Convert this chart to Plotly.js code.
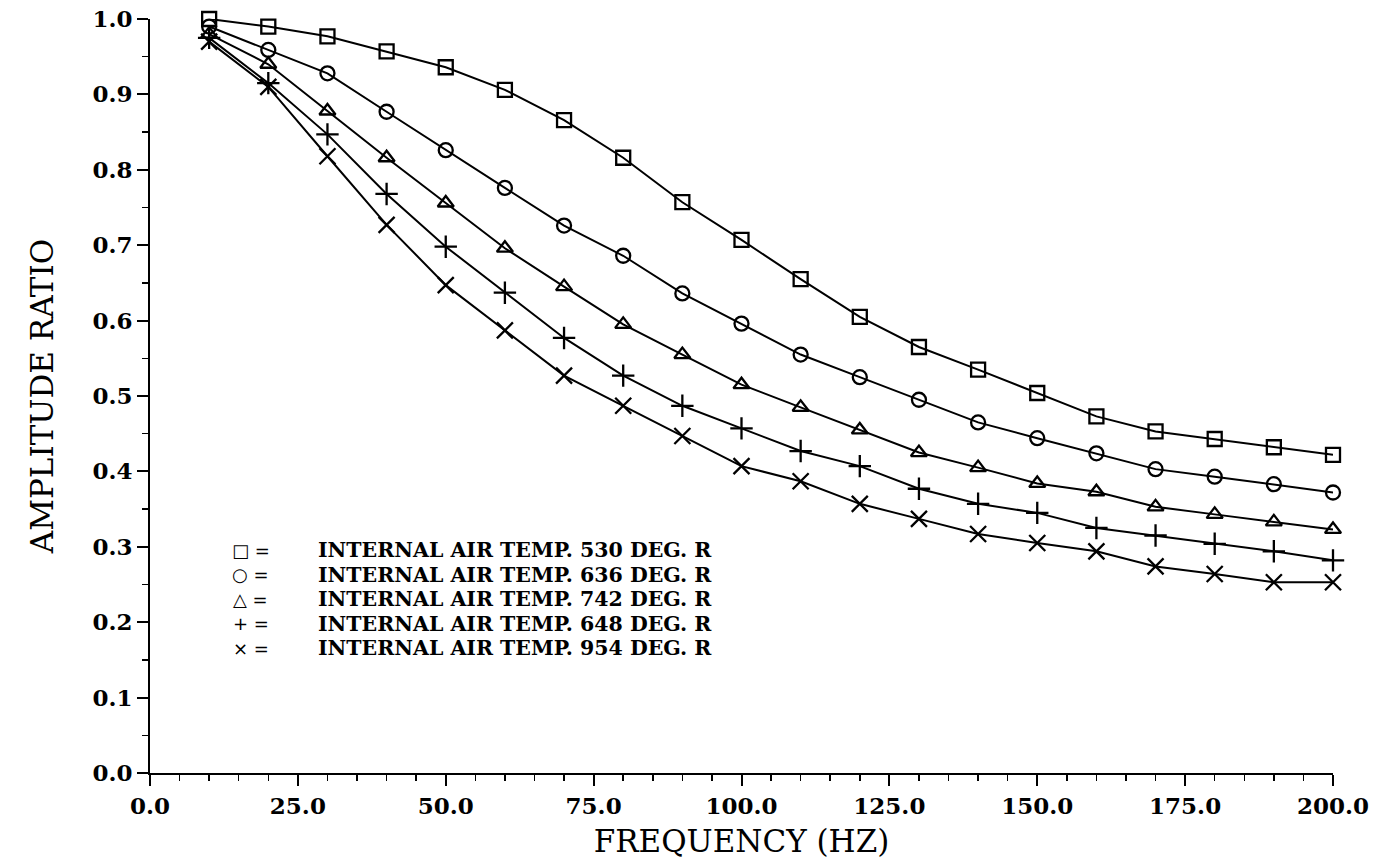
<!DOCTYPE html>
<html><head><meta charset="utf-8">
<script src="https://cdn.plot.ly/plotly-3.0.1.min.js"></script>
<style>html,body{margin:0;padding:0;background:#fff}#chart{width:1380px;height:865px}</style>
</head><body><div id="chart"></div>
<script>
const freq = [10,20,30,40,50,60,70,80,90,100,110,120,130,140,150,160,170,180,190,200];
const temp530 = [1.0,0.99,0.977,0.957,0.936,0.906,0.866,0.816,0.757,0.707,0.655,0.605,0.565,0.535,0.504,0.473,0.453,0.443,0.432,0.422];
const temp636 = [0.99,0.959,0.928,0.877,0.826,0.776,0.726,0.686,0.636,0.596,0.555,0.525,0.495,0.465,0.444,0.424,0.403,0.393,0.383,0.372];
const temp742 = [0.98,0.94,0.878,0.816,0.756,0.696,0.645,0.595,0.555,0.515,0.485,0.455,0.425,0.405,0.384,0.373,0.353,0.343,0.333,0.323];
const temp848 = [0.975,0.915,0.847,0.768,0.698,0.637,0.577,0.527,0.487,0.457,0.427,0.407,0.377,0.357,0.345,0.325,0.315,0.304,0.294,0.282];
const temp954 = [0.97,0.91,0.818,0.727,0.647,0.587,0.527,0.487,0.447,0.407,0.387,0.357,0.337,0.317,0.305,0.294,0.274,0.264,0.253,0.253];
const seriesNames = ["INTERNAL AIR TEMP. 530 DEG. R","INTERNAL AIR TEMP. 636 DEG. R","INTERNAL AIR TEMP. 742 DEG. R","INTERNAL AIR TEMP. 848 DEG. R","INTERNAL AIR TEMP. 954 DEG. R"];
const legendLabels = ["INTERNAL AIR TEMP. 530 DEG. R","INTERNAL AIR TEMP. 636 DEG. R","INTERNAL AIR TEMP. 742 DEG. R","INTERNAL AIR TEMP. 648 DEG. R","INTERNAL AIR TEMP. 954 DEG. R"];
const legendSymbols = ["□","○","△","+","×"];
const xTicks = [0,25,50,75,100,125,150,175,200];
const yTicks = [0,0.1,0.2,0.3,0.4,0.5,0.6,0.7,0.8,0.9,1.0];

const allY = [temp530,temp636,temp742,temp848,temp954];
const symbols = ["square-open","circle-open","triangle-up-open","cross-thin-open","x-thin-open"];
const sizes = [14,14,14,16,16];
const traces = allY.map((y,i)=>({
  x: freq, y: y, type:'scatter', mode:'lines+markers', name: seriesNames[i],
  line:{color:'#000', width:2},
  marker:{symbol:symbols[i], size:sizes[i], color:'#000', line:{color:'#000', width:2.3}},
  cliponaxis:false, showlegend:false
}));

const serif = 'DejaVu Serif, serif';
const annotations = [];
legendLabels.forEach((t,i)=>{
  const yp = 0.2957 - i*0.0325;
  annotations.push({xref:'paper', yref:'paper', x:0.085, y:yp, xanchor:'center', yanchor:'middle',
    text: legendSymbols[i]+' =', showarrow:false, borderpad:0,
    font:{family:'DejaVu Sans, sans-serif', size:18, color:'#000'}});
  annotations.push({xref:'paper', yref:'paper', x:0.141, y:yp, xanchor:'left', yanchor:'middle',
    text: t, showarrow:false, borderpad:0,
    font:{family:serif, size:20.5, color:'#000', weight:'bold'}});
});

const layout = {
  width:1380, height:865,
  margin:{l:150, r:47, t:19, b:92},
  paper_bgcolor:'#fff', plot_bgcolor:'#fff',
  showlegend:false,
  xaxis:{range:[0,200], tickvals:xTicks, ticktext:xTicks.map(v=>v.toFixed(1)),
    showgrid:false, zeroline:false, showline:true, linecolor:'#000', linewidth:2,
    ticks:'outside', ticklen:11, tickwidth:2, tickcolor:'#000',
    minor:{dtick:5, tick0:0, ticks:'outside', ticklen:6, tickwidth:1.5, tickcolor:'#000', showgrid:false},
    tickfont:{family:'DejaVu Serif, serif', size:23, color:'#000', weight:'bold'},
    title:{text:'FREQUENCY (HZ)', font:{family:serif, size:31, color:'#000'}, standoff:13}},
  yaxis:{range:[0,1.0], tickvals:yTicks, ticktext:yTicks.map(v=>v.toFixed(1)),
    showgrid:false, zeroline:false, showline:true, linecolor:'#000', linewidth:2,
    ticks:'outside', ticklen:11, tickwidth:2, tickcolor:'#000',
    minor:{dtick:0.05, tick0:0, ticks:'outside', ticklen:6, tickwidth:1.5, tickcolor:'#000', showgrid:false},
    tickfont:{family:'DejaVu Serif, serif', size:23, color:'#000', weight:'bold'},
    title:{text:'AMPLITUDE RATIO', font:{family:serif, size:31, color:'#000'}, standoff:30}},
  annotations: annotations
};
Plotly.newPlot('chart', traces, layout, {displayModeBar:false, staticPlot:true});
</script></body></html>
